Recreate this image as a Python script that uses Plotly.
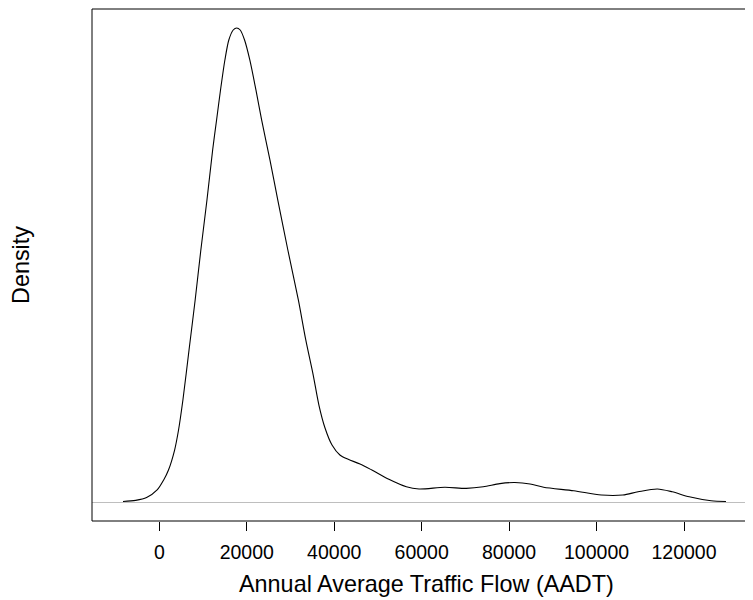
import plotly.graph_objects as go

# Kernel density estimate of AADT
aadt = [-8300, -5400, -2900, -500, 1000, 2100, 3500, 4400, 5400, 6800,
        8200, 9500, 10900, 12200, 13100, 14000, 15000, 15900, 16900, 17700,
        18500, 19500, 20700, 22100, 23400, 25300, 27100, 29400, 31800, 33500,
        35200, 36500, 37900, 39500, 41300, 43200, 45900, 48600, 52500, 56500,
        59400, 65300, 70200, 74100, 77900, 81300, 84800, 87900, 94800, 101100,
        106000, 109500, 113900, 117300, 121200, 126200, 129600]
density_e6 = [0.04, 0.13, 0.35, 0.94, 1.72, 2.50, 4.06, 5.62, 7.96, 11.87,
              15.77, 19.67, 23.57, 27.48, 29.82, 32.16, 34.50, 36.06, 36.84, 37.00,
              36.84, 36.06, 34.50, 32.16, 29.82, 26.70, 23.57, 19.67, 15.77, 12.65,
              9.91, 7.57, 5.78, 4.45, 3.67, 3.33, 2.97, 2.50, 1.77, 1.19,
              1.02, 1.15, 1.07, 1.19, 1.44, 1.52, 1.41, 1.15, 0.88, 0.55,
              0.55, 0.80, 1.02, 0.80, 0.41, 0.10, 0.04]
tick_vals = [0, 20000, 40000, 60000, 80000, 100000, 120000]
tick_text = ["0", "20000", "40000", "60000", "80000", "100000", "120000"]

density = [d * 1e-6 for d in density_e6]
ymax = max(density)

FONT = "Liberation Sans, Arial, sans-serif"

# the page body has an 8px default margin; size the figure so it fills the window
fig = go.Figure()
fig.add_trace(go.Scatter(
    x=aadt, y=density, mode="lines",
    line=dict(color="black", width=1.1, shape="spline", smoothing=0.8),
    hoverinfo="skip", showlegend=False,
))

fig.update_layout(
    width=745, height=592,
    margin=dict(l=84, r=0, t=1, b=79),
    paper_bgcolor="white", plot_bgcolor="white",
    font=dict(family=FONT, color="black"),
    xaxis=dict(
        range=[-15392, 135780],
        tickmode="array", tickvals=tick_vals, ticktext=tick_text,
        ticks="outside", ticklen=9, tickwidth=1, tickcolor="black",
        ticklabelstandoff=5,
        tickfont=dict(size=19.5, family=FONT, color="black"),
        showgrid=False, zeroline=False, showline=False,
    ),
    yaxis=dict(
        range=[-0.04 * ymax, 1.04 * ymax],
        showticklabels=False, ticks="", showgrid=False,
        zeroline=True, zerolinecolor="#bebebe", zerolinewidth=1,
        showline=False,
    ),
    shapes=[
        dict(type="rect", xref="paper", yref="paper", x0=0, x1=1.05, y0=0, y1=1,
             line=dict(color="black", width=1), fillcolor="rgba(0,0,0,0)", layer="above"),
    ],
    annotations=[
        dict(text="Annual Average Traffic Flow (AADT)", xref="paper", yref="paper",
             x=(426.5 - 92) / 661, y=-(584 - 521) / 512, xanchor="center", yanchor="middle",
             showarrow=False, font=dict(size=23.4, family=FONT, color="black")),
        dict(text="Density", xref="paper", yref="paper",
             x=(21 - 92) / 661, y=0.5, xanchor="center", yanchor="middle", textangle=-90,
             showarrow=False, font=dict(size=23.4, family=FONT, color="black")),
    ],
)

fig.write_html("out.html")
